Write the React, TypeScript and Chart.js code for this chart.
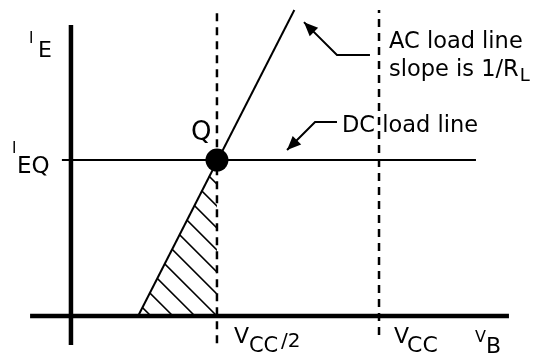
import React, { useEffect, useRef } from "react";
import { Chart, registerables } from "chart.js";

Chart.register(...registerables);

// ---- diagram values (arbitrary units: V_B horizontally, I_E vertically) ----
const X_LIMITS = [-2.43, 16.2];
const Y_LIMITS = [-1.41, 10.13];
const V_AXIS_X = [-1.4, 15.0]; // horizontal (V_B) axis extent
const I_AXIS_Y = [-0.93, 9.33]; // vertical (I_E) axis extent
const VCC_HALF = 5;
const VCC = 10.55;
const I_EQ = 5;
const DC_LINE_X = [-0.31, 13.87];
const VCC_HALF_Y = [-0.87, 9.81];
const VCC_Y = [-0.61, 9.81];
const AC_LINE_X = [2.3, 7.65];
const AC_LINE_Y = [0, 9.81];
const Q_X = [VCC_HALF];
const Q_Y = [I_EQ];
const AC_ARROW_X = [10.24, 9.11, 7.98];
const AC_ARROW_Y = [8.37, 8.37, 9.42];
const DC_ARROW_X = [9.11, 8.36, 7.4];
const DC_ARROW_Y = [6.22, 6.22, 5.32];

const FONT = '"DejaVu Sans", "Liberation Sans", sans-serif';

const pts = (xs: number[], ys: number[]) => xs.map((x, i) => ({ x, y: ys[i] }));

const lineDs = (data: any[], width: number, dash: number[] = []) => ({
  data,
  showLine: true,
  borderColor: "#000",
  backgroundColor: "#000",
  borderWidth: width,
  borderDash: dash,
  pointRadius: 0,
  pointHoverRadius: 0,
  borderCapStyle: "butt",
});

const overlay = {
  id: "overlay",
  beforeDatasetsDraw(chart: any) {
    const { ctx, scales } = chart;
    const px = (v: number) => scales.x.getPixelForValue(v);
    const py = (v: number) => scales.y.getPixelForValue(v);
    // hatched region under the AC load line, left of Vcc/2
    const ax = px(AC_LINE_X[0]), ay = py(AC_LINE_Y[0]);
    const bx = px(VCC_HALF), by = py(0);
    const cx = px(Q_X[0]), cy = py(Q_Y[0]);
    ctx.save();
    ctx.beginPath();
    ctx.moveTo(ax, ay);
    ctx.lineTo(bx, by);
    ctx.lineTo(cx, cy);
    ctx.closePath();
    ctx.clip();
    ctx.strokeStyle = "#000";
    ctx.lineWidth = 1.6;
    for (let k = -12; k < 12; k++) {
      const x0 = bx - k * 22;
      ctx.beginPath();
      ctx.moveTo(x0, by);
      ctx.lineTo(x0 - 300, by - 300);
      ctx.stroke();
    }
    ctx.restore();
  },
  afterDatasetsDraw(chart: any) {
    const { ctx, scales } = chart;
    const px = (v: number) => scales.x.getPixelForValue(v);
    const py = (v: number) => scales.y.getPixelForValue(v);

    // arrows
    const arrow = (xs: number[], ys: number[]) => {
      const p = xs.map((x, i) => [px(x), py(ys[i])]);
      ctx.save();
      ctx.strokeStyle = "#000";
      ctx.fillStyle = "#000";
      ctx.lineWidth = 2;
      ctx.beginPath();
      ctx.moveTo(p[0][0], p[0][1]);
      for (let i = 1; i < p.length; i++) ctx.lineTo(p[i][0], p[i][1]);
      ctx.stroke();
      const [hx, hy] = p[p.length - 1];
      const [qx, qy] = p[p.length - 2];
      const ang = Math.atan2(hy - qy, hx - qx);
      const L = 14, W = 6;
      ctx.beginPath();
      ctx.moveTo(hx, hy);
      ctx.lineTo(hx - L * Math.cos(ang) + W * Math.sin(ang), hy - L * Math.sin(ang) - W * Math.cos(ang));
      ctx.lineTo(hx - L * Math.cos(ang) - W * Math.sin(ang), hy - L * Math.sin(ang) + W * Math.cos(ang));
      ctx.closePath();
      ctx.fill();
      ctx.restore();
    };
    arrow(AC_ARROW_X, AC_ARROW_Y);
    arrow(DC_ARROW_X, DC_ARROW_Y);

    // text
    const t = (s: string, x: number, y: number, size: number) => {
      ctx.font = `${size}px ${FONT}`;
      ctx.fillText(s, x, y);
      return x + ctx.measureText(s).width;
    };
    ctx.save();
    ctx.fillStyle = "#000";
    ctx.textAlign = "left";
    ctx.textBaseline = "alphabetic";
    const ox = px(0), oy = py(0);
    const xh = px(VCC_HALF), xv = px(VCC), yq = py(I_EQ);
    const top = py(I_AXIS_Y[1]);
    // I_E
    t("I", ox - 42, top + 18, 15);
    t("E", ox - 33, top + 32, 22);
    // I_EQ
    t("I", ox - 59, yq - 7, 15);
    t("EQ", ox - 54, yq + 13, 23);
    // Q
    t("Q", xh - 26, yq - 20, 26);
    // V_CC/2
    t("V", xh + 17, oy + 27, 22);
    t("CC", xh + 32, oy + 36, 21);
    t("/2", xh + 64, oy + 31, 20);
    // V_CC
    t("V", xv + 15, oy + 27, 22);
    t("CC", xv + 28, oy + 36, 22);
    // V_B
    t("V", xv + 96, oy + 26, 16);
    t("B", xv + 107, oy + 37, 22);
    // annotations
    t("AC load line", xv + 10, 48, 22.5);
    const endR = t("slope is 1/R", xv + 10, 76, 22.5);
    t("L", endR + 1, 81, 18);
    t("DC load line", xv - 37, yq - 28, 22.5);
    ctx.restore();
  },
};

export default function App() {
  const ref = useRef<HTMLCanvasElement | null>(null);
  useEffect(() => {
    if (!ref.current) return;
    const chart = new Chart(ref.current, {
      type: "scatter",
      data: {
        datasets: [
          lineDs(pts(V_AXIS_X, [0, 0]), 4.5),
          lineDs(pts([0, 0], I_AXIS_Y), 4.5),
          lineDs(pts(DC_LINE_X, [I_EQ, I_EQ]), 2),
          lineDs(pts([VCC_HALF, VCC_HALF], VCC_HALF_Y), 2.5, [8, 6]),
          lineDs(pts([VCC, VCC], VCC_Y), 2.5, [8, 6]),
          lineDs(pts(AC_LINE_X, AC_LINE_Y), 2),
          {
            data: pts(Q_X, Q_Y),
            showLine: false,
            pointRadius: 11.5,
            pointHoverRadius: 11.5,
            backgroundColor: "#000",
            borderColor: "#000",
            borderWidth: 0,
          },
        ] as any,
      },
      options: {
        animation: false,
        responsive: true,
        maintainAspectRatio: false,
        layout: { padding: 0, autoPadding: false },
        events: [],
        plugins: { legend: { display: false }, tooltip: { enabled: false } },
        scales: {
          x: { type: "linear", display: false, min: X_LIMITS[0], max: X_LIMITS[1] },
          y: { type: "linear", display: false, min: Y_LIMITS[0], max: Y_LIMITS[1] },
        },
      } as any,
      plugins: [overlay],
    });
    return () => chart.destroy();
  }, []);
  return (
    <div style={{ position: "fixed", left: 0, top: 0, width: 544, height: 360, background: "#fff" }}>
      <canvas ref={ref} />
    </div>
  );
}
